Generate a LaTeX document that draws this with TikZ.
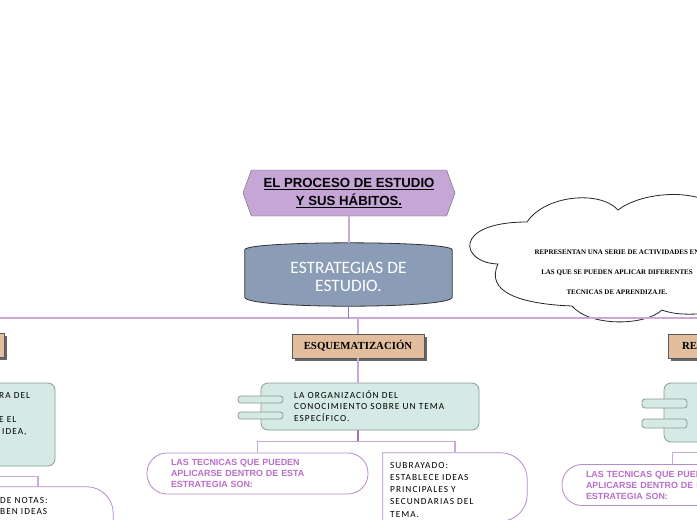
\documentclass[tikz,border=0pt]{standalone}
\usepackage{fontspec}
\usetikzlibrary{shapes.symbols,shadows}
\newfontfamily\titlefont[WordSpace=0.45]{Liberation Sans}
\newfontfamily\cylfont{Carlito}
\newfontfamily\spacedfont[LetterSpace=11]{Carlito}
\newfontfamily\tanfont{Liberation Serif}
\newfontfamily\techfont{Liberation Sans}
\definecolor{hexfill}{HTML}{C5A6D6}
\definecolor{cylfill}{HTML}{8A9CB6}
\definecolor{tanfill}{HTML}{E2BE9E}
\definecolor{tealfill}{HTML}{D5E9E5}
\definecolor{tealline}{HTML}{8A9A95}
\definecolor{busline}{HTML}{C9A9DA}
\definecolor{busdark}{HTML}{9C72BC}
\definecolor{techtext}{HTML}{B96DCB}
\definecolor{techline}{HTML}{B58BCB}

\begin{document}
\begin{tikzpicture}[x=1pt,y=-1pt,
  hexbox/.style={shape=signal,signal to=west and east,signal pointer angle=140,draw=black!60,fill=hexfill,
    minimum width=212pt,minimum height=46pt,inner sep=0pt,align=center,
    font={\titlefont\bfseries\fontsize{13.2}{18}\selectfont}},
  cylbox/.style={draw=black!80,fill=cylfill,line width=0.8pt},
  cyltxt/.style={text=white,align=center,inner sep=0pt,font={\cylfont\fontsize{17.4}{18}\selectfont}},
  tanbox/.style={draw=black!65,fill=tanfill,minimum width=132pt,minimum height=24pt,inner sep=0pt,
    font={\tanfont\bfseries\fontsize{10.8}{12}\selectfont},
    drop shadow={shadow xshift=2.5pt,shadow yshift=-2.5pt,fill=black!60,opacity=1}},
  tealbox/.style={draw=tealline,fill=tealfill,rounded corners=7pt,line width=0.8pt,inner sep=0pt},
  tab/.style={draw=tealline,fill=tealfill,rounded corners=3pt,minimum width=45pt,minimum height=7pt,
    inner sep=0pt,line width=0.8pt},
  techbox/.style={draw=techline,fill=white,rounded corners=20pt,minimum width=221pt,minimum height=41pt,
    inner xsep=24pt,inner ysep=0pt,text width=173pt,align=left,line width=0.8pt,text=techtext,
    font={\techfont\bfseries\fontsize{8.9}{11}\selectfont}},
  notebox/.style={draw=techline,fill=white,line width=0.8pt},
  bodytxt/.style={anchor=base west,align=left,inner sep=0pt,font={\spacedfont\fontsize{9.3}{11.6}\selectfont}},
  cloudtxt/.style={align=center,inner sep=0pt,font={\tanfont\bfseries\fontsize{7}{20}\selectfont}},
  bus/.style={draw=busline,line width=1.1pt},
  busdk/.style={draw=busdark,line width=1.1pt}]
\useasboundingbox (0,0) rectangle (697,520);
\clip (0,0) rectangle (697,520);
\fill[white] (0,0) rectangle (697,520);

% cloud
\draw[fill=white,draw=black!85,line width=0.8pt] (527,222) .. controls (545,195) and (600,190) .. (618,210)
  .. controls (640,193) and (690,188) .. (715,205) -- (715,312)
  .. controls (690,316) and (672,314) .. (662,310)
  .. controls (645,326) and (590,327) .. (572,306)
  .. controls (520,304) and (485,292) .. (498,264)
  .. controls (460,263) and (452,222) .. (527,222) -- cycle;
\node[cloudtxt] (cloudlbl) at (617,272) {REPRESENTAN UNA SERIE DE ACTIVIDADES EN\\LAS QUE SE PUEDEN APLICAR DIFERENTES\\TECNICAS DE APRENDIZAJE.};

% title and main topic
\node[hexbox] (title) at (349,193) {\underline{EL PROCESO DE ESTUDIO}\\\underline{Y SUS HÁBITOS.}};
\node[minimum width=207pt,minimum height=63pt,inner sep=0pt] (estr) at (348.5,274.5) {};
\draw[cylbox] ([yshift=-7pt]estr.north west) .. controls ([yshift=2.3pt]estr.north west) and ([yshift=2.3pt]estr.north east) .. ([yshift=-7pt]estr.north east)
  -- ([yshift=9pt]estr.south east) .. controls ([yshift=-3pt]estr.south east) and ([yshift=-3pt]estr.south west) .. ([yshift=9pt]estr.south west) -- cycle;
\node[cyltxt] (estrlbl) at ([yshift=-2.5pt]estr.center) {ESTRATEGIAS DE\\ESTUDIO.};

% strategies
\node[tanbox] (lefttan) at (-62,345.5) {};
\node[tanbox] (esq) at (358,346) {ESQUEMATIZACIÓN};
\node[tanbox,text width=104pt,align=left] (revtan) at (734,346.5) {REV};

% left column (base = last line)
\node[tealbox,minimum width=218pt,minimum height=83pt] (lcdef) at (-54,424.5) {};
\node[bodytxt,font={\spacedfont\fontsize{9.3}{11.7}\selectfont}] (lcdeftxt) at (-1,434) {RA DEL\\\mbox{}\\E EL\\\hspace{3pt}IDEA,};
\node[minimum width=150pt,minimum height=68pt,inner sep=0pt] (lcnot) at (38,521) {};
\draw[notebox] (lcnot.south west) -- (lcnot.north west)
  -- ([xshift=-26pt]lcnot.north east) .. controls ([xshift=-12pt]lcnot.north east) and ([yshift=-12pt]lcnot.north east) .. ([yshift=-26pt]lcnot.north east)
  -- ([yshift=26pt]lcnot.south east) .. controls ([yshift=12pt]lcnot.south east) and ([xshift=-12pt]lcnot.south east) .. ([xshift=-26pt]lcnot.south east) -- cycle;
\node[bodytxt] (lcnottxt) at (0,514.6) {DE NOTAS:\\BEN IDEAS};

% middle column
\node[tealbox,minimum width=218pt,minimum height=47pt] (esqdef) at (370,406.5) {};
\node[tab] (etab1) at (260.5,399.5) {};
\node[tab] (etab2) at (260.5,415.5) {};
\node[bodytxt] (esqdeftxt) at (294,421.2) {LA ORGANIZACIÓN DEL\\CONOCIMIENTO SOBRE UN TEMA\\ESPECÍFICO.};
\node[techbox] (esqtec) at (257.5,473.5) {LAS TECNICAS QUE PUEDEN\\APLICARSE DENTRO DE ESTA\\ESTRATEGIA SON:};
\node[minimum width=144pt,minimum height=68pt,inner sep=0pt] (subr) at (455,487) {};
\draw[notebox] (subr.south west) -- (subr.north west)
  -- ([xshift=-26pt]subr.north east) .. controls ([xshift=-12pt]subr.north east) and ([yshift=-12pt]subr.north east) .. ([yshift=-26pt]subr.north east)
  -- ([yshift=26pt]subr.south east) .. controls ([yshift=12pt]subr.south east) and ([xshift=-12pt]subr.south east) .. ([xshift=-26pt]subr.south east) -- cycle;
\node[bodytxt,font={\spacedfont\fontsize{9.3}{12.3}\selectfont}] (subrtxt) at (390,517.2) {SUBRAYADO:\\ESTABLECE IDEAS\\PRINCIPALES Y\\SECUNDARIAS DEL\\TEMA.};

% right column
\node[tealbox,minimum width=218pt,minimum height=59pt] (revdef) at (773,412.5) {};
\node[tab,minimum height=9pt] (rtab1) at (664.5,403.5) {};
\node[tab,minimum height=9pt] (rtab2) at (664.5,423.5) {};
\node[techbox] (revtec) at (672.5,485) {LAS TECNICAS QUE PUEDEN\\APLICARSE DENTRO DE ESTA\\ESTRATEGIA SON:};

% connectors
\coordinate (rail) at (0,318);
\draw[bus] (title.south) -- (title.south |- estr.north);
\draw[bus] (lefttan.north) -- (lefttan.north |- rail) -- (revtan.north |- rail) -- (revtan.north);
\draw[busdk] (estr.south) -- (estr.south |- rail);
\draw[bus] (rail -| esq.north) -- (esq.north);
\draw[bus] (lefttan.south) -- (lefttan.south |- lcdef.north);
\draw[bus] (lcdef.south) -- ++(0,10) -| (lcnot.north);
\draw[bus] (esq.south) -- (esq.south |- esqdef.north);
\draw[busdk] (esq.south |- esqdef.south) -- ++(0,11) coordinate (ebus);
\draw[bus] (esqtec.north) |- (ebus) -| (subr.north);
\draw[bus] (revtan.south) -- (revtan.south |- revdef.north);
\draw[bus] (revdef.south) -- ++(0,10) -| (revtec.north);
\end{tikzpicture}
\end{document}
